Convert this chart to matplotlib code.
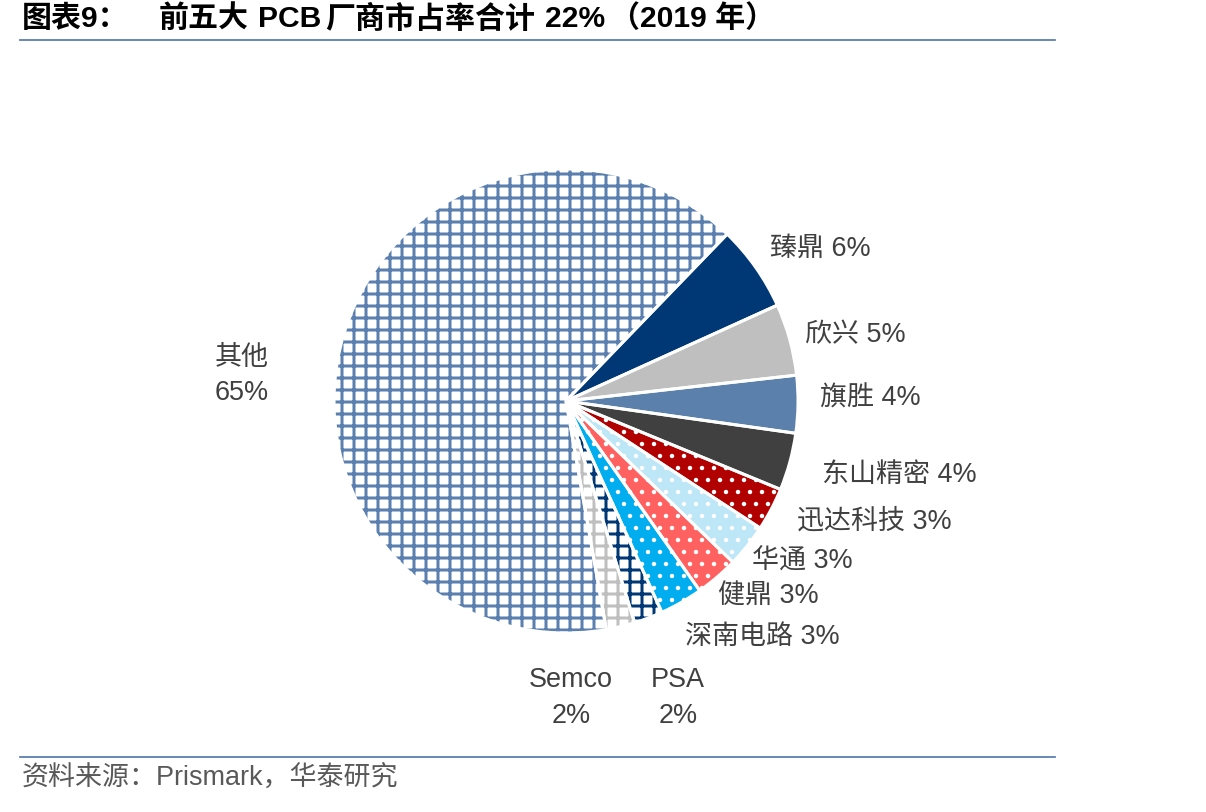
import matplotlib.pyplot as plt
from matplotlib.lines import Line2D

plt.rcParams['font.family'] = ['Liberation Sans', 'Noto Sans CJK SC', 'DejaVu Sans']

# 数据
labels = ['臻鼎', '欣兴', '旗胜', '东山精密', '迅达科技', '华通', '健鼎', '深南电路', 'PSA', 'Semco', '其他']
shares = [6, 5, 4, 4, 3, 3, 3, 3, 2, 2, 65]
face_colors = ['#003775', '#BFBFBF', '#5B80AC', '#404040', '#B00000',
               '#BDE6F7', '#FF6161', '#00AEEF', 'white', 'white', 'white']
hatches = [None, None, None, None, '.', '.', '.', '.', '+', '+', '+']
hatch_colors = [None, None, None, None, 'white', 'white', 'white', 'white',
                '#003775', '#BFBFBF', '#5B7FAF']

W, H = 1206, 812
DPI = 72
fig = plt.figure(figsize=(W / DPI, H / DPI), dpi=DPI)

# 饼图区域：圆心约 (566, 401) px，半径约 232 px
cx, cy, r = 566, 401, 232
ax = fig.add_axes([(cx - r) / W, (H - cy - r) / H, 2 * r / W, 2 * r / H])

wedges, _ = ax.pie(shares, startangle=46, counterclock=False, radius=1,
                   wedgeprops=dict(linewidth=0))
for w, fc, ht, hc in zip(wedges, face_colors, hatches, hatch_colors):
    w.set_facecolor(fc)
    w.set_clip_on(False)
    if ht:
        w.set_edgecolor(hc)
        w.set_hatch(ht)
        lw = 2.0 if ht == '.' else 3.0
        if hasattr(w, 'set_hatch_linewidth'):
            w.set_hatch_linewidth(lw)
        else:
            w._hatch_linewidth = lw
    w.set_linewidth(0)

# 白色分隔线
outline, _ = ax.pie(shares, startangle=46, counterclock=False, radius=1,
                    wedgeprops=dict(facecolor='none', edgecolor='white', linewidth=3))
for w in outline:
    w.set_clip_on(False)
ax.set_xlim(-1, 1)
ax.set_ylim(-1, 1)
ax.set_aspect('equal')
ax.axis('off')


def px(x, y):
    return x / W, 1 - y / H


FS = 27
label_pos = {
    '臻鼎': (770, 249),
    '欣兴': (805, 335),
    '旗胜': (820, 399),
    '东山精密': (822, 475),
    '迅达科技': (797, 522),
    '华通': (752, 562),
    '健鼎': (718, 597),
    '深南电路': (685, 637),
}
for name, val in zip(labels, shares):
    if name in label_pos:
        x, y = label_pos[name]
        fig.text(*px(x, y), f'{name} {val}%', ha='left', va='center',
                 fontsize=FS, color='#404040')

fig.text(*px(678, 698), f'{labels[8]}\n{shares[8]}%', ha='center', va='center',
         fontsize=FS, color='#404040', linespacing=1.5)
fig.text(*px(571, 698), f'{labels[9]}\n{shares[9]}%', ha='center', va='center',
         fontsize=FS, color='#404040', linespacing=1.5)
fig.text(*px(242, 375), f'{labels[10]}\n{shares[10]}%', ha='center', va='center',
         fontsize=FS, color='#404040', linespacing=1.45)

# 标题（分段放置）
title_parts = [(22, '图表9：'), (159, '前五大'), (258, 'PCB'), (325, '厂商市占率合计'),
               (545, '22%'), (610, '（2019 年）')]
for x, s in title_parts:
    fig.text(*px(x, 19), s, ha='left', va='center',
             fontsize=30, fontweight='bold', color='black')

fig.add_artist(Line2D([20 / W, 1055 / W], [1 - 40 / H, 1 - 40 / H], color='#5B7FAF', lw=1.8))
fig.add_artist(Line2D([20 / W, 1055 / W], [1 - 757 / H, 1 - 757 / H], color='#5B7FAF', lw=1.8))
fig.text(*px(22, 779), '资料来源：Prismark，华泰研究', ha='left', va='center',
         fontsize=27, color='#595959')

fig.savefig('out.png', dpi=DPI)
